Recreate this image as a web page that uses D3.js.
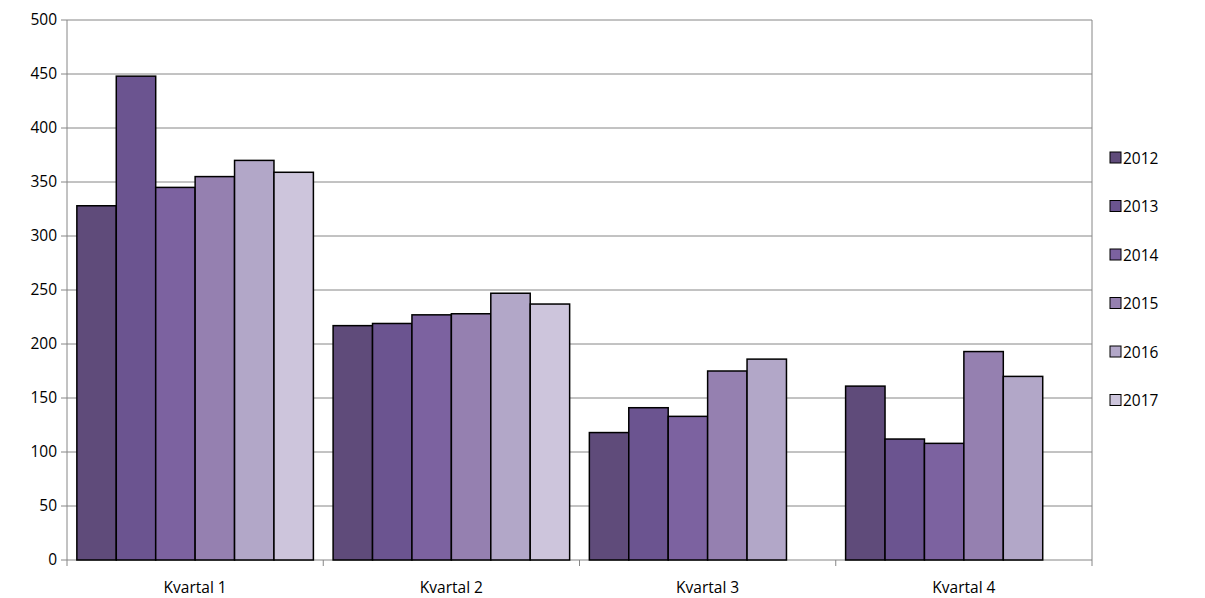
<!DOCTYPE html>
<html><head><meta charset="utf-8">
<script src="https://cdnjs.cloudflare.com/ajax/libs/d3/7.8.5/d3.min.js"></script>
<style>body{margin:0;background:#fff}text{font-family:"Open Sans","Noto Sans",sans-serif;font-size:15.5px;fill:#000}</style>
</head><body>
<script>
var quarters = ["Kvartal 1", "Kvartal 2", "Kvartal 3", "Kvartal 4"];
var years = ["2012", "2013", "2014", "2015", "2016", "2017"];
var colors = ["#5f4b7a", "#6b5490", "#7c62a0", "#9580b0", "#b2a7c8", "#cdc5dc"];
// values per year, one entry per quarter (null = no bar)
var v2012 = [328, 217, 118, 161];
var v2013 = [448, 219, 141, 112];
var v2014 = [345, 227, 133, 108];
var v2015 = [355, 228, 175, 193];
var v2016 = [370, 247, 186, 170];
var v2017 = [359, 237, null, null];
var series = [v2012, v2013, v2014, v2015, v2016, v2017];
var yTicks = [0, 50, 100, 150, 200, 250, 300, 350, 400, 450, 500];

var W = 1205, H = 598, L = 67, R = 1092, T = 20, B = 560;
var svg = d3.select("body").append("svg").attr("width", W).attr("height", H);

var x0 = d3.scaleBand().domain(quarters).range([L, R]);
var x1 = d3.scaleBand().domain(years).range([0, x0.bandwidth()]).paddingOuter(0.25);
var y = d3.scaleLinear().domain([0, 500]).range([B, T]);

svg.append("g").selectAll("line").data(yTicks).join("line")
  .attr("x1", L).attr("x2", R).attr("y1", d => y(d)).attr("y2", d => y(d))
  .attr("stroke", "#868686").attr("stroke-width", 1);

svg.append("line").attr("x1", L).attr("x2", L).attr("y1", T).attr("y2", B).attr("stroke", "#868686");
svg.append("line").attr("x1", R).attr("x2", R).attr("y1", T).attr("y2", B).attr("stroke", "#868686");
svg.append("g").selectAll("line").data(d3.range(5)).join("line")
  .attr("x1", i => L + i * x0.bandwidth()).attr("x2", i => L + i * x0.bandwidth())
  .attr("y1", B).attr("y2", B + 6).attr("stroke", "#868686");
svg.append("g").selectAll("line").data(yTicks).join("line")
  .attr("x1", L - 6).attr("x2", L).attr("y1", d => y(d)).attr("y2", d => y(d)).attr("stroke", "#868686");

svg.append("g").selectAll("text").data(yTicks).join("text")
  .attr("x", L - 10).attr("y", d => y(d) + 5).attr("text-anchor", "end").text(d => d);
svg.append("g").selectAll("text").data(quarters).join("text")
  .attr("x", d => x0(d) + x0.bandwidth() / 2).attr("y", B + 33).attr("text-anchor", "middle").text(d => d);

series.forEach(function (vals, si) {
  svg.append("g").selectAll("rect")
    .data(vals.map((v, qi) => ({ q: quarters[qi], v: v })).filter(d => d.v != null))
    .join("rect")
    .attr("x", d => x0(d.q) + x1(years[si]))
    .attr("width", x1.bandwidth())
    .attr("y", d => y(d.v)).attr("height", d => B - y(d.v))
    .attr("fill", colors[si]).attr("stroke", "#000").attr("stroke-width", 1.5);
});

var lg = svg.append("g").selectAll("g").data(years).join("g")
  .attr("transform", (d, i) => "translate(1110," + (152 + i * 48.5) + ")");
lg.append("rect").attr("width", 11).attr("height", 11)
  .attr("fill", (d, i) => colors[i]).attr("stroke", "#000").attr("stroke-width", 1);
lg.append("text").attr("x", 13).attr("y", 11.5).text(d => d);
</script>
</body></html>
